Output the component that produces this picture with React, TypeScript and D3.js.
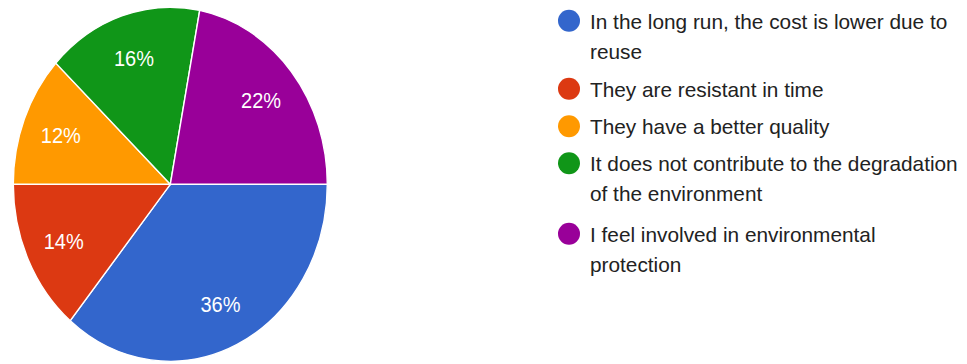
import React from "react";
import * as d3 from "d3";

const categories = [
  "In the long run, the cost is lower due to reuse",
  "They are resistant in time",
  "They have a better quality",
  "It does not contribute to the degradation of the environment",
  "I feel involved in environmental protection",
];
const legendLines = [
  ["In the long run, the cost is lower due to", "reuse"],
  ["They are resistant in time"],
  ["They have a better quality"],
  ["It does not contribute to the degradation", "of the environment"],
  ["I feel involved in environmental", "protection"],
];
const values = [36, 14, 12, 16, 22];
const colors = ["#3366cc", "#dc3912", "#ff9900", "#109618", "#990099"];
const legendBaselines = [28.5, 96.5, 134, 171, 241.5];

export default function App() {
  const W = 967;
  const H = 364;
  const cx = 170.3;
  const cy = 184.3;
  const rx = 157;
  const ry = 177;
  const sy = ry / rx;

  const pie = d3
    .pie<number>()
    .sort(null)
    .startAngle(Math.PI / 2)
    .endAngle(Math.PI / 2 + 2 * Math.PI);
  const arcs = pie(values);
  const arc = d3.arc<d3.PieArcDatum<number>>().innerRadius(0).outerRadius(rx);
  const labelArc = d3
    .arc<d3.PieArcDatum<number>>()
    .innerRadius(rx * 0.75)
    .outerRadius(rx * 0.75);

  const font = "'Liberation Sans', Arial, sans-serif";

  return (
    <svg
      width={W}
      height={H}
      style={{ position: "absolute", left: 0, top: 0, background: "#fff" }}
    >
      <g transform={`translate(${cx},${cy}) scale(1,${sy})`}>
        {arcs.map((a, i) => (
          <path
            key={i}
            d={arc(a) || ""}
            fill={colors[i]}
            stroke="#fff"
            strokeWidth={1.4}
            vectorEffect="non-scaling-stroke"
          />
        ))}
      </g>
      {arcs.map((a, i) => {
        const [lx, ly] = labelArc.centroid(a);
        return (
          <text
            key={i}
            transform={`translate(${cx + lx},${cy + ly * sy}) scale(1,1.1)`}
            textAnchor="middle"
            dominantBaseline="central"
            fill="#fff"
            fontFamily={font}
            fontSize={20}
          >
            {values[i]}%
          </text>
        );
      })}
      <g>
        {legendLines.map((lines, i) => (
          <g key={i}>
            <title>{categories[i]}</title>
            <circle
              cx={569}
              cy={legendBaselines[i] - 7.8}
              r={11}
              fill={colors[i]}
            />
            {lines.map((t, j) => (
              <text
                key={j}
                x={590}
                y={legendBaselines[i] + j * 30}
                fill="#222"
                fontFamily={font}
                fontSize={20.8}
              >
                {t}
              </text>
            ))}
          </g>
        ))}
      </g>
    </svg>
  );
}
